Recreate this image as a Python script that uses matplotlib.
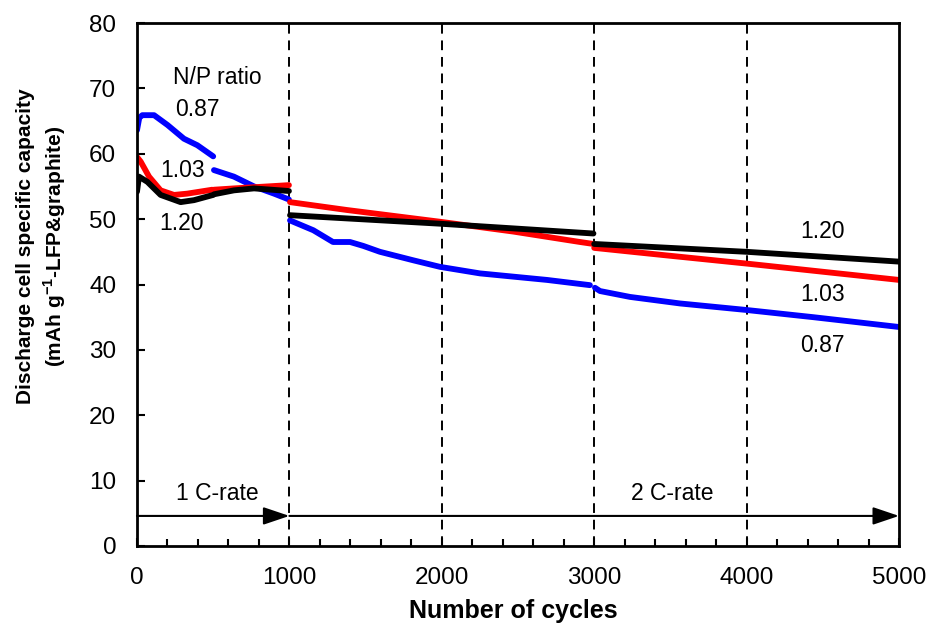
import matplotlib
matplotlib.use("Agg")
import matplotlib.pyplot as plt
from matplotlib.ticker import MultipleLocator

plt.rcParams['font.family'] = ['Liberation Sans', 'DejaVu Sans']
plt.rcParams['mathtext.fontset'] = 'custom'
plt.rcParams['mathtext.rm'] = 'Liberation Sans'
plt.rcParams['mathtext.bf'] = 'Liberation Sans:bold'

# ---- data ----
# N/P = 0.87 (blue), segments
blue_c1 = [0, 15, 35, 112, 200, 308, 396, 500]
blue_v1 = [63.6, 65.5, 65.9, 65.9, 64.4, 62.3, 61.3, 59.6]
blue_c2 = [505, 636, 768, 899, 997]
blue_v2 = [57.5, 56.5, 55.0, 53.9, 53.0]
blue_c3 = [1004, 1157, 1286, 1398, 1485, 1594, 1813, 1988, 2250, 2690, 2972]
blue_v3 = [49.8, 48.3, 46.5, 46.5, 45.9, 45.0, 43.7, 42.7, 41.7, 40.7, 39.9]
blue_c4 = [3005, 3038, 3235, 3563, 4000, 4438, 5000]
blue_v4 = [39.5, 39.0, 38.1, 37.1, 36.1, 35.0, 33.5]

# N/P = 1.03 (red)
red_c1 = [0, 24, 79, 155, 243, 330, 494]
red_v1 = [59.5, 58.8, 56.5, 54.4, 53.7, 53.9, 54.5]
red_c2 = [505, 636, 855, 997]
red_v2 = [54.5, 54.7, 55.0, 55.2]
red_c3 = [1004, 1376, 1988, 2468, 2907, 2995]
red_v3 = [52.6, 51.4, 49.6, 48.1, 46.5, 46.2]
red_c4 = [3000, 3454, 4000, 5000]
red_v4 = [45.6, 44.5, 43.2, 40.7]

# N/P = 1.20 (black)
black_c1 = [0, 13, 68, 155, 286, 374, 500]
black_v1 = [54.2, 56.5, 55.7, 53.7, 52.6, 52.9, 53.7]
black_c2 = [505, 636, 768, 997]
black_v2 = [53.8, 54.4, 54.7, 54.3]
black_c3 = [1004, 1988, 2995]
black_v3 = [50.6, 49.3, 47.8]
black_c4 = [3000, 4000, 5000]
black_v4 = [46.2, 45.0, 43.5]

series = [
    ('#0000ff', [(blue_c1, blue_v1), (blue_c2, blue_v2), (blue_c3, blue_v3), (blue_c4, blue_v4)]),
    ('#ff0000', [(red_c1, red_v1), (red_c2, red_v2), (red_c3, red_v3), (red_c4, red_v4)]),
    ('#000000', [(black_c1, black_v1), (black_c2, black_v2), (black_c3, black_v3), (black_c4, black_v4)]),
]

vlines_at = [1000, 2000, 3000, 4000]
x_ticks = [0, 1000, 2000, 3000, 4000, 5000]
y_ticks = [0, 10, 20, 30, 40, 50, 60, 70, 80]

fig = plt.figure(figsize=(9.29, 6.23), dpi=100)
ax = fig.add_axes([137/929, 1-546/623, (899-137)/929, (546-23)/623])

for color, segs in series:
    for c, v in segs:
        ax.plot(c, v, color=color, lw=4.2, solid_capstyle='round', solid_joinstyle='round')

for xv in vlines_at:
    ax.axvline(xv, color='k', lw=1.4, ls=(0, (5, 3.5)), zorder=1)

ax.set_xlim(0, 5000)
ax.set_ylim(0, 80)
ax.set_xticks(x_ticks)
ax.set_yticks(y_ticks)
ax.xaxis.set_minor_locator(MultipleLocator(200))
ax.tick_params(axis='both', which='major', direction='in', length=6, width=1.5,
               labelsize=17.5, pad=15)
ax.tick_params(axis='x', which='minor', direction='in', length=5, width=1.5)
for s in ax.spines.values():
    s.set_linewidth(2)

# arrows
arrow_y = 4.6
ax.annotate('', xy=(1000, arrow_y), xytext=(0, arrow_y),
            arrowprops=dict(arrowstyle='-|>,head_length=0.8,head_width=0.27',
                            color='k', lw=1.5, mutation_scale=20, shrinkA=0, shrinkB=0))
ax.annotate('', xy=(5000, arrow_y), xytext=(1000, arrow_y),
            arrowprops=dict(arrowstyle='-|>,head_length=0.8,head_width=0.27',
                            color='k', lw=1.5, mutation_scale=20, shrinkA=0, shrinkB=0))

tfs = 16.5
ax.text(525, 8.1, '1 C-rate', fontsize=tfs, ha='center', va='center')
ax.text(3511, 8.1, '2 C-rate', fontsize=tfs, ha='center', va='center')
ax.text(525, 71.6, 'N/P ratio', fontsize=tfs, ha='center', va='center')
ax.text(396, 66.7, '0.87', fontsize=tfs, ha='center', va='center')
ax.text(297, 57.5, '1.03', fontsize=tfs, ha='center', va='center')
ax.text(295, 49.4, '1.20', fontsize=tfs, ha='center', va='center')
ax.text(4500, 48.1, '1.20', fontsize=tfs, ha='center', va='center')
ax.text(4500, 38.4, '1.03', fontsize=tfs, ha='center', va='center')
ax.text(4500, 30.7, '0.87', fontsize=tfs, ha='center', va='center')

fig.text(513/929, 5/623, 'Number of cycles', fontsize=18, fontweight='bold',
         ha='center', va='baseline')
fig.text(42/929, 1-246/623,
         'Discharge cell specific capacity\n(mAh g$^{\\mathbf{-1}}$-LFP&graphite)',
         fontsize=15, fontweight='bold', rotation=90, ha='center', va='center',
         multialignment='center', linespacing=1.35)

fig.savefig('out.png', dpi=100)
